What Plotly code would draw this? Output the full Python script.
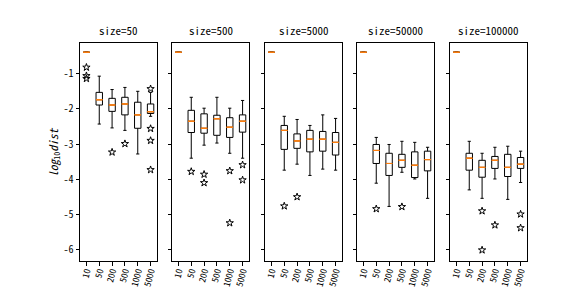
import plotly.graph_objects as go

W, H = 576, 288

categories = ["10", "50", "200", "500", "1000", "5000"]
sizes = [50, 500, 5000, 50000, 100000]

# per panel (size), per category statistics of log10(dist)
whisker_low = [
    [-0.39, -2.43, -2.54, -2.61, -3.28, -2.21],
    [-0.39, -3.40, -3.03, -2.97, -3.26, -3.40],
    [-0.39, -3.74, -3.57, -3.89, -3.71, -3.74],
    [-0.39, -4.11, -4.77, -3.80, -3.99, -4.54],
    [-0.39, -4.30, -4.54, -3.99, -4.57, -4.09],
]
quart1 = [
    [-0.39, -1.89, -2.07, -2.17, -2.55, -2.13],
    [-0.39, -2.67, -2.69, -2.75, -2.81, -2.66],
    [-0.39, -3.15, -3.12, -3.22, -3.20, -3.31],
    [-0.39, -3.55, -3.89, -3.66, -3.95, -3.76],
    [-0.39, -3.74, -3.94, -3.69, -3.92, -3.69],
]
medians = [
    [-0.39, -1.74, -1.89, -1.86, -2.17, -2.08],
    [-0.39, -2.35, -2.55, -2.28, -2.52, -2.35],
    [-0.39, -2.61, -2.91, -2.86, -2.86, -2.95],
    [-0.39, -3.18, -3.55, -3.46, -3.60, -3.44],
    [-0.39, -3.40, -3.66, -3.46, -3.66, -3.57],
]
quart3 = [
    [-0.39, -1.53, -1.70, -1.67, -1.81, -1.86],
    [-0.39, -2.04, -2.14, -2.18, -2.25, -2.17],
    [-0.39, -2.47, -2.71, -2.61, -2.64, -2.67],
    [-0.39, -3.01, -3.26, -3.29, -3.22, -3.20],
    [-0.39, -3.26, -3.46, -3.35, -3.29, -3.38],
]
whisker_high = [
    [-0.39, -1.07, -1.45, -1.39, -1.50, -1.53],
    [-0.39, -1.67, -1.98, -1.67, -1.98, -1.76],
    [-0.39, -2.21, -2.30, -2.47, -2.17, -2.27],
    [-0.39, -2.81, -3.01, -2.92, -2.95, -3.09],
    [-0.39, -2.92, -3.26, -3.09, -3.06, -3.20],
]
# outliers per panel: category and value
outlier_cats = [
    ["10", "10", "10", "200", "500", "5000", "5000", "5000", "5000"],
    ["50", "200", "200", "1000", "1000", "5000", "5000"],
    ["50", "200"],
    ["50", "500"],
    ["200", "200", "500", "5000", "5000"],
]
outlier_vals = [
    [-0.82, -1.06, -1.14, -3.23, -2.99, -1.43, -2.56, -2.90, -3.73],
    [-3.78, -3.86, -4.10, -3.76, -5.24, -3.59, -4.02],
    [-4.76, -4.50],
    [-4.84, -4.78],
    [-4.90, -6.01, -5.30, -4.99, -5.38],
]
y_ticks = [-1, -2, -3, -4, -5, -6]

FONT = "Noto Sans Mono CJK JP, Noto Sans CJK JP, DejaVu Sans"
panel_px = [(72, 149), (164, 241), (257, 334), (349, 426), (442, 519)]
y_top, y_bot = 35, 253
ydom = [1 - y_bot / H, 1 - y_top / H]

fig = go.Figure()
layout = dict(
    width=W, height=H, margin=dict(l=0, r=0, t=0, b=0),
    paper_bgcolor="white", plot_bgcolor="white",
    boxmode="overlay", showlegend=False,
    font=dict(family=FONT, size=10, color="black"),
    annotations=[],
)

for i, s in enumerate(sizes):
    xa = "x" if i == 0 else f"x{i+1}"
    ya = "y" if i == 0 else f"y{i+1}"
    fig.add_trace(go.Box(
        x=categories, q1=quart1[i], median=medians[i], q3=quart3[i],
        lowerfence=whisker_low[i], upperfence=whisker_high[i],
        width=0.5, whiskerwidth=0.5, line=dict(color="black", width=1),
        fillcolor="rgba(0,0,0,0)", boxpoints=False, hoverinfo="skip",
        xaxis=xa, yaxis=ya,
    ))
    fig.add_trace(go.Box(
        x=categories, q1=medians[i], median=medians[i], q3=medians[i],
        lowerfence=medians[i], upperfence=medians[i],
        width=0.5, whiskerwidth=0, line=dict(color="#ff7f0e", width=1),
        fillcolor="rgba(0,0,0,0)", boxpoints=False, hoverinfo="skip",
        xaxis=xa, yaxis=ya,
    ))
    fig.add_trace(go.Scatter(
        x=outlier_cats[i], y=outlier_vals[i], mode="markers",
        marker=dict(symbol="star-open", size=5.5, color="black",
                    line=dict(width=1, color="black")),
        hoverinfo="skip", xaxis=xa, yaxis=ya,
    ))
    x0, x1 = panel_px[i]
    key = "xaxis" if i == 0 else f"xaxis{i+1}"
    ykey = "yaxis" if i == 0 else f"yaxis{i+1}"
    layout[key] = dict(
        domain=[x0 / W, x1 / W], anchor=ya, type="category",
        categoryorder="array", categoryarray=categories,
        range=[-0.5, 5.5], showgrid=False, zeroline=False,
        showline=True, mirror=True, linecolor="black", linewidth=1,
        ticks="outside", ticklen=3.5, tickwidth=1, tickcolor="black",
        tickangle=-75, tickfont=dict(size=9, family=FONT), automargin=False,
        ticklabelstandoff=-3,
    )
    layout[ykey] = dict(
        domain=ydom, anchor=xa, range=[-6.32, -0.128],
        showgrid=False, zeroline=False,
        showline=True, mirror=True, linecolor="black", linewidth=1,
        ticks="outside", ticklen=3.5, tickwidth=1, tickcolor="black",
        tickvals=y_ticks, ticktext=[str(v) for v in y_ticks],
        showticklabels=(i == 0), tickfont=dict(size=10, family=FONT),
        automargin=False,
    )
    if i > 0:
        layout[ykey]["matches"] = "y"
    layout["annotations"].append(dict(
        text=f"size={s}", x=(x0 + x1) / 2 / W, y=ydom[1], xref="paper", yref="paper",
        xanchor="center", yanchor="bottom", yshift=3, showarrow=False,
        font=dict(size=11, family=FONT),
    ))

layout["annotations"].append(dict(
    text="<i>log</i><sub>10</sub><i>dist</i>", x=45 / W, y=(ydom[0] + ydom[1]) / 2,
    xref="paper", yref="paper", xanchor="center", yanchor="middle",
    textangle=-90, showarrow=False, font=dict(size=11.5, family=FONT),
))

fig.update_layout(**layout)
fig.write_html("out.html")
